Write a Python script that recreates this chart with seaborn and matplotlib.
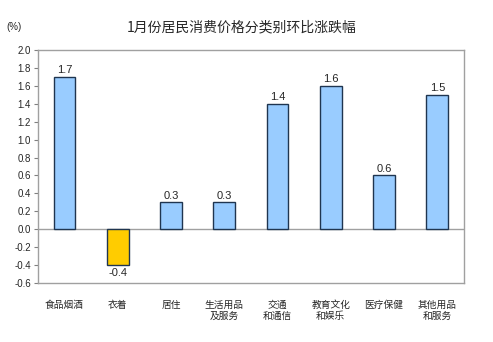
import matplotlib
matplotlib.use("Agg")
import matplotlib.pyplot as plt
import seaborn as sns
import pandas as pd

categories = ["食品烟酒", "衣着", "居住", "生活用品\n及服务", "交通\n和通信",
              "教育文化\n和娱乐", "医疗保健", "其他用品\n和服务"]
values = [1.7, -0.4, 0.3, 0.3, 1.4, 1.6, 0.6, 1.5]
yticks = [-0.6, -0.4, -0.2, 0.0, 0.2, 0.4, 0.6, 0.8, 1.0, 1.2, 1.4, 1.6, 1.8, 2.0]

sns.set_theme(style="white")
plt.rcParams["font.family"] = ["Noto Sans CJK SC", "DejaVu Sans"]
num_font = ["Liberation Sans", "DejaVu Sans"]

df = pd.DataFrame({"cat": categories, "val": values})
colors = ["#FFCC00" if v < 0 else "#99CCFF" for v in values]

fig = plt.figure(figsize=(4.93, 3.42), dpi=100)
ax = fig.add_axes([0.077, 0.1725, 0.864, 0.6815])

sns.barplot(data=df, x="cat", y="val", hue="cat", palette=colors, legend=False,
            saturation=1, width=0.41, edgecolor="#1F3550", linewidth=1.0, ax=ax)

ax.axhline(0, color="#A0A0A0", linewidth=1.0, zorder=0)
ax.set_ylim(-0.6, 2.0)
ax.set_xlim(-0.5, len(categories) - 0.5)
ax.set_yticks(yticks)
ax.set_yticklabels([f"{t:.1f}" for t in yticks], fontsize=7, family=num_font)
ax.set_xticks(range(len(categories)))
ax.set_xticklabels(categories, fontsize=7, linespacing=1.15)
ax.tick_params(axis="y", left=True, length=3, width=0.8, color="#808080", pad=2)
ax.tick_params(axis="x", bottom=False, pad=6)
ax.set_xlabel("")
ax.set_ylabel("")
for s in ax.spines.values():
    s.set_color("#A0A0A0")
    s.set_linewidth(1.0)

for i, v in enumerate(values):
    if v >= 0:
        ax.annotate(f"{v:.1f}", (i, v), xytext=(0, 1), textcoords="offset points",
                    ha="center", va="bottom", fontsize=8, family=num_font)
    else:
        ax.annotate(f"{v:.1f}", (i, v), xytext=(0, -2), textcoords="offset points",
                    ha="center", va="top", fontsize=8, family=num_font)

fig.text(0.49, 0.92, "1月份居民消费价格分类别环比涨跌幅", ha="center", va="center", fontsize=10)
fig.text(0.012, 0.92, "(%)", ha="left", va="center", fontsize=7, family=num_font)

fig.savefig("out.png", dpi=100)
